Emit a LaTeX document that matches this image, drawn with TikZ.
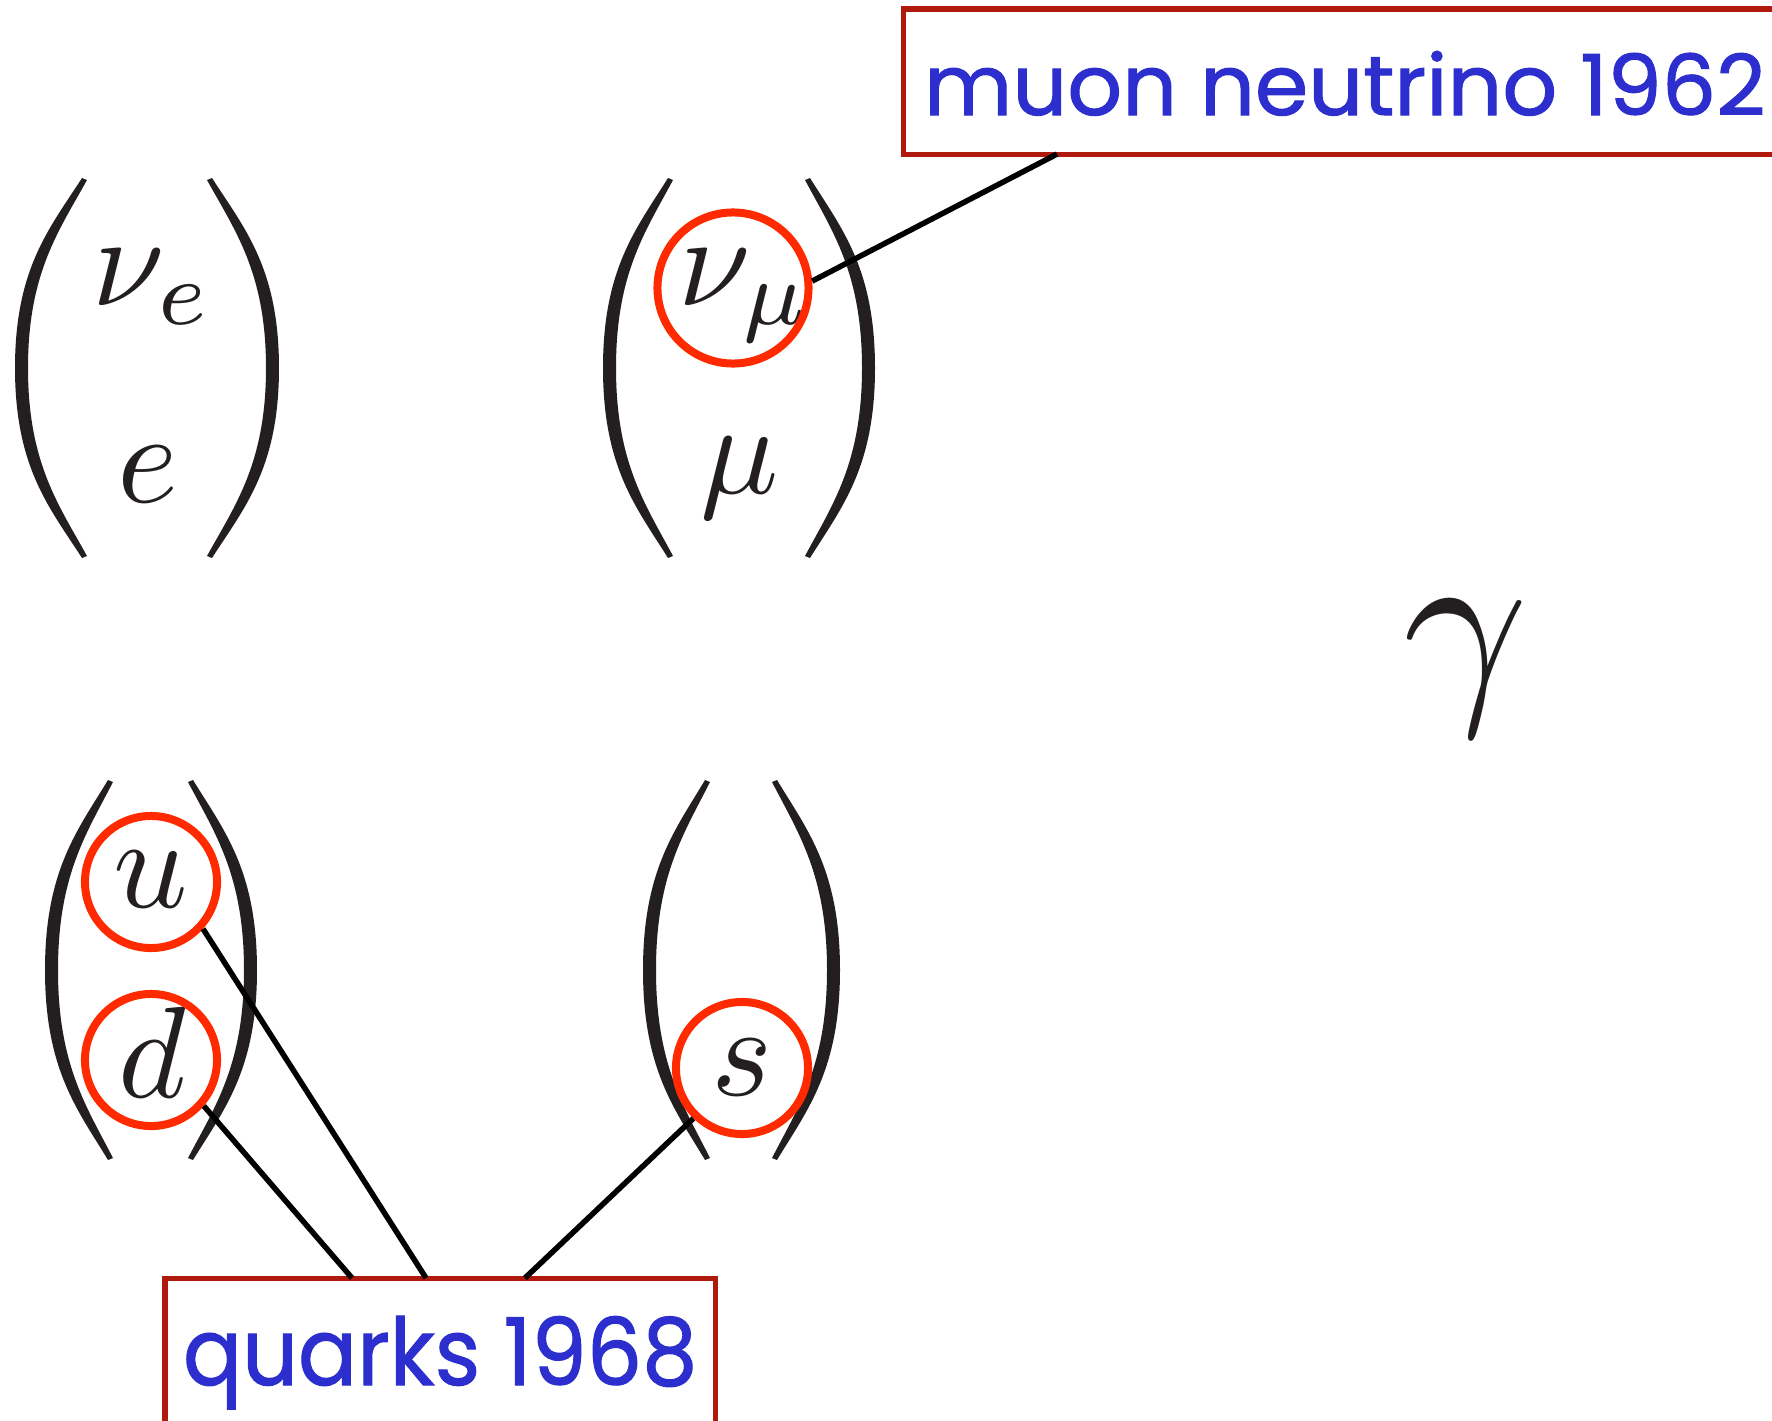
\documentclass[tikz,border=0pt]{standalone}
\usepackage{graphicx}
\usepackage{fontspec}
\newfontfamily\boxfont[FakeBold=1.2]{Poppins}
\usetikzlibrary{calc}
\definecolor{boxred}{HTML}{B01A0C}
\definecolor{txtblue}{HTML}{2C2ECE}
\definecolor{ringred}{HTML}{FF2A00}
\definecolor{parcol}{HTML}{231F20}
% #1 = x of tips, #2 = x of bulge, #3 = y top, #4 = y bottom, #5 = +1 left / -1 right
\newcommand\myparen[5]{%
  \fill[parcol] (#1,#3)
    .. controls ({#1-0.48*(#1-#2)},{#3+50}) and (#2,{#3+90}) .. (#2,{(#3+#4)/2})
    .. controls (#2,{#4-90}) and ({#1-0.48*(#1-#2)},{#4-50}) .. (#1,#4)
    -- ({#1+5*(#5)},{#4-2})
    .. controls ({#1-0.48*(#1-#2)+9*(#5)},{#4-53}) and ({#2+13*(#5)},{#4-95}) .. ({#2+13*(#5)},{(#3+#4)/2})
    .. controls ({#2+13*(#5)},{#3+95}) and ({#1-0.48*(#1-#2)+9*(#5)},{#3+53}) .. ({#1+5*(#5)},{#3+2})
    -- cycle;}
\newcommand\mysym[1]{\scalebox{3.7}{$#1$}}
\tikzset{
  ring/.style={circle, draw=ringred, line width=0.08cm, minimum size=#1, inner sep=0},
  glyph/.style={inner sep=0, outer sep=0, text=parcol},
  link/.style={line width=0.055cm, black},
  labelbox/.style={draw=boxred, line width=0.05cm, inner sep=0, outer sep=0, anchor=north west},
  labeltext/.style={text=txtblue, inner sep=0, outer sep=0, anchor=base west, font=\boxfont},
}
\begin{document}
\begin{tikzpicture}[x=0.01cm, y=-0.01cm]
\useasboundingbox (0,0) rectangle (1772,1421);
\clip (0,0) rectangle (1772,1421);
% parentheses
\myparen{82}{15}{178}{558}{1}
\myparen{212}{279}{178}{558}{-1}
\myparen{668}{603}{178}{558}{1}
\myparen{810}{875}{178}{558}{-1}
\myparen{108}{45}{780}{1160}{1}
\myparen{193}{257}{780}{1160}{-1}
\myparen{705}{643}{780}{1160}{1}
\myparen{777}{840}{780}{1160}{-1}
% symbols
\node[glyph, anchor=base west] (nue) at (93,305) {\mysym{\nu_e}};
\node[glyph, anchor=base] (e) at (148,502) {\mysym{e}};
\node[glyph, anchor=base west] (numu) at (678,305) {\mysym{\nu_\mu}};
\node[glyph, anchor=base] (mu) at (740,493) {\mysym{\mu}};
\node[glyph, anchor=base] (u) at (151,907) {\mysym{u}};
\node[glyph, anchor=base] (d) at (152,1097) {\mysym{d}};
\node[glyph, anchor=base] (s) at (742,1095) {\mysym{s}};
\node[glyph, anchor=base] (gam) at (1466,694) {\scalebox{6.2}{$\gamma$}};
% rings
\node[ring=1.51cm] (cnumu) at (733,288) {};
\node[ring=1.32cm] (cu) at (151,882) {};
\node[ring=1.32cm] (cd) at (151,1060) {};
\node[ring=1.32cm] (cs) at (742,1068) {};
% label boxes
\node[labelbox, minimum width=8.87cm, minimum height=1.45cm] (mbox) at (903,9) {};
\node[labeltext] (mtext) at (924,115) {\resizebox{8.41cm}{0.64cm}{muon neutrino 1962}};
\node[labelbox, minimum width=5.5cm, minimum height=1.7cm] (qbox) at (165,1278) {};
\node[labeltext] (qtext) at (183,1385) {\resizebox{5.14cm}{0.69cm}{quarks 1968}};
% connectors
\draw[link] (cnumu.5) -- ($(mbox.south west)+(154,0)$);
\draw[link] (cu.-42) -- ($(qbox.north west)+(261,0)$);
\draw[link] (cd.-41) -- ($(qbox.north west)+(187,0)$);
\draw[link] (cs.-134) -- ($(qbox.north west)+(360,0)$);
\end{tikzpicture}
\end{document}
